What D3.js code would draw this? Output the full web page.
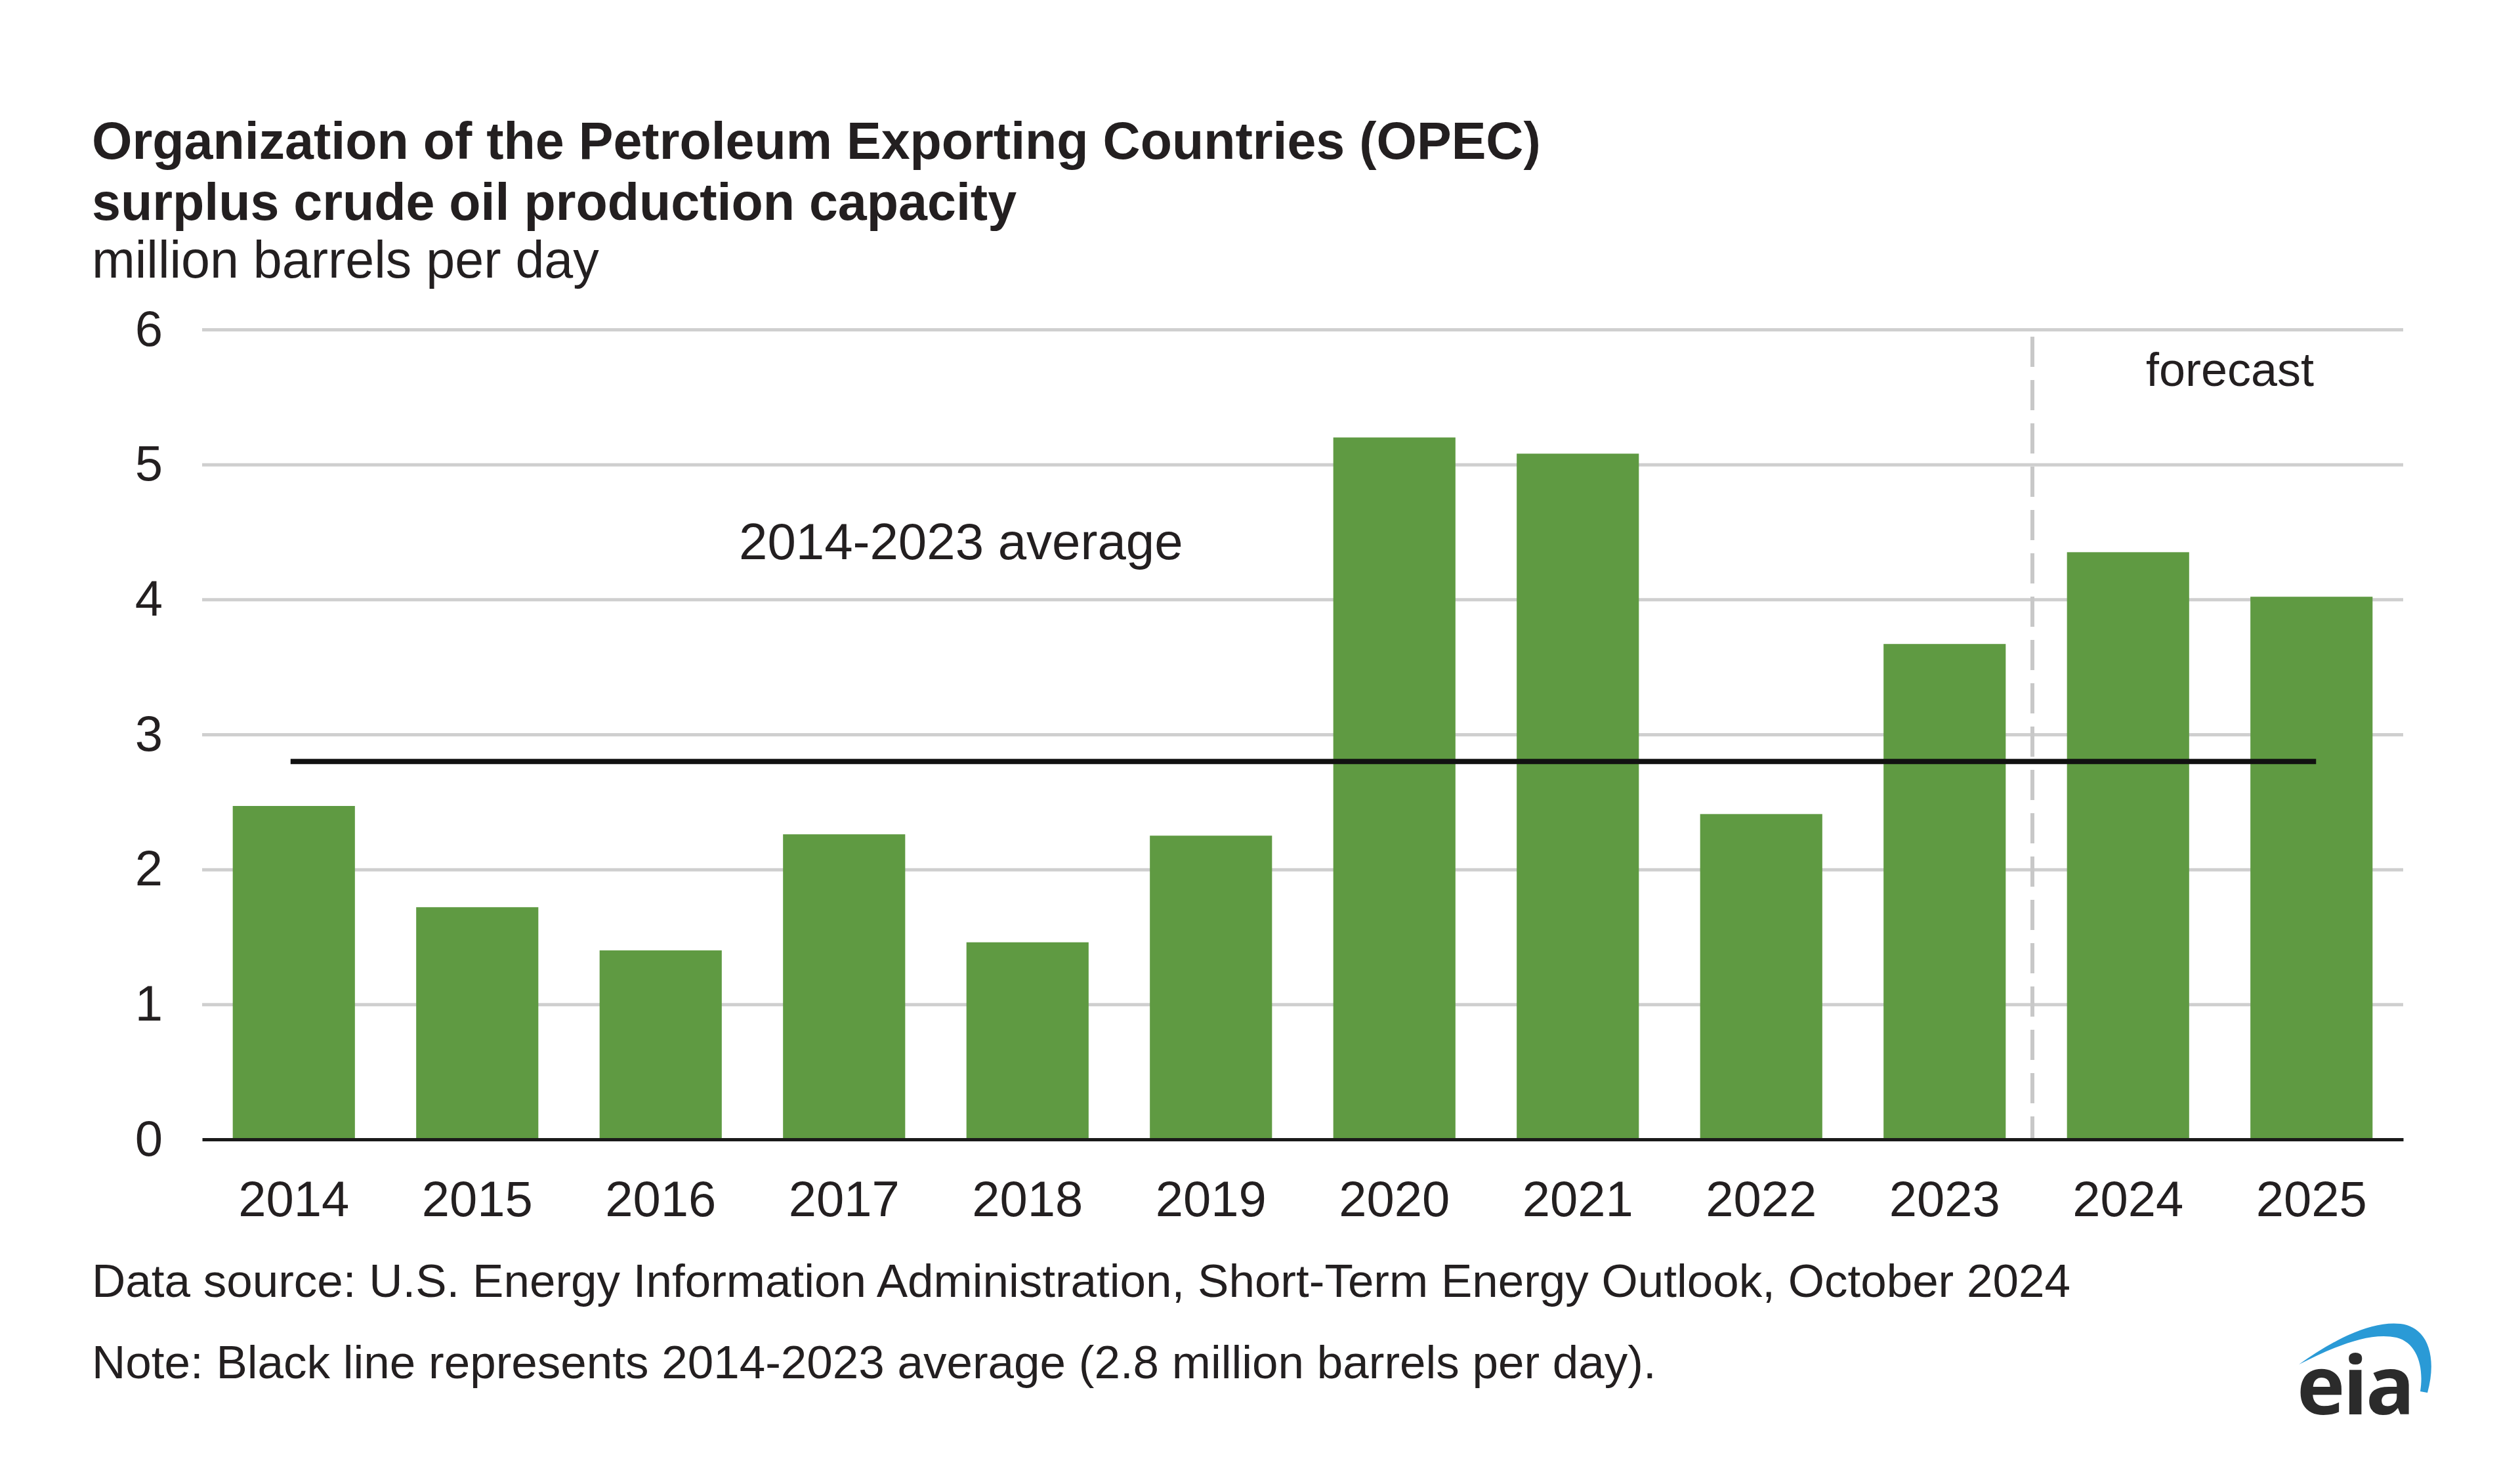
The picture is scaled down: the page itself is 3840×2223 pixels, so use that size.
<!DOCTYPE html>
<html>
<head>
<meta charset="utf-8">
<script src="https://cdn.jsdelivr.net/npm/d3@7"></script>
<style>
  html, body { margin: 0; padding: 0; background: #ffffff; }
  svg { display: block; font-family: "Liberation Sans", Arial, Helvetica, sans-serif; }
</style>
</head>
<body>
<script>
// ---- data ----
const years = ["2014","2015","2016","2017","2018","2019","2020","2021","2022","2023","2024","2025"];
const surplusCapacity = [2.47, 1.72, 1.40, 2.26, 1.46, 2.25, 5.20, 5.08, 2.41, 3.67, 4.35, 4.02];
const averageValue = 2.8;
const yTicks = [0, 1, 2, 3, 4, 5, 6];
const forecastStart = "2024";
const titleLines = ["Organization of the Petroleum Exporting Countries (OPEC)", "surplus crude oil production capacity"];
const unitLabel = "million barrels per day";
const averageLabel = "2014-2023 average";
const forecastLabel = "forecast";
const sourceNote = "Data source: U.S. Energy Information Administration, Short-Term Energy Outlook, October 2024";
const footNote = "Note: Black line represents 2014-2023 average (2.8 million barrels per day).";

(function () {
// ---- layout ----
const W = 3840, H = 2223;
const pLeft = 308, pRight = 3662, pTop = 502, pBottom = 1736;
const textColor = "#231f20";
const barColor = "#5f9a42";

const svg = d3.select("body").append("svg")
  .attr("width", W).attr("height", H)
  .attr("viewBox", `0 0 ${W} ${H}`);

svg.append("rect").attr("width", W).attr("height", H).attr("fill", "#ffffff");

const x = d3.scaleBand().domain(years).range([pLeft, pRight]).paddingInner(0.334).paddingOuter(0.167);
const y = d3.scaleLinear().domain([0, 6]).range([pBottom, pTop]);

// titles
const titleG = svg.append("g").attr("fill", textColor);
titleLines.forEach((t, i) => {
  titleG.append("text").attr("x", 140).attr("y", 242 + i * 93)
    .attr("font-size", 79).attr("font-weight", "bold").text(t);
});
titleG.append("text").attr("x", 140).attr("y", 423).attr("font-size", 79).text(unitLabel);

// y axis + gridlines
const yAxis = svg.append("g").attr("transform", `translate(${pLeft},0)`)
  .call(d3.axisLeft(y).tickValues(yTicks).tickSize(-(pRight - pLeft)).tickPadding(60).tickFormat(d3.format("d")));
yAxis.select(".domain").remove();
yAxis.selectAll(".tick line").attr("stroke", "#cfcfcf").attr("stroke-width", 5);
yAxis.selectAll(".tick text").attr("font-size", 76).attr("fill", textColor)
  .attr("font-family", "Liberation Sans, Arial, sans-serif");
yAxis.selectAll(".tick").filter(d => d === 0).select("line").remove();

// forecast divider
const divX = x(forecastStart) - x.step() * x.paddingInner() / 2 - 6;
svg.append("line").attr("x1", divX).attr("x2", divX).attr("y1", 513).attr("y2", pBottom)
  .attr("stroke", "#c8c8c8").attr("stroke-width", 6).attr("stroke-dasharray", "46,20");

// bars
svg.append("g").selectAll("rect").data(years).join("rect")
  .attr("x", d => x(d))
  .attr("width", x.bandwidth())
  .attr("y", (d, i) => y(surplusCapacity[i]))
  .attr("height", (d, i) => y(0) - y(surplusCapacity[i]))
  .attr("fill", barColor);

// x axis
const xAxis = svg.append("g").attr("transform", `translate(0,${pBottom})`)
  .call(d3.axisBottom(x).tickSize(0).tickPadding(63));
xAxis.select(".domain").attr("stroke", "#1a1a1a").attr("stroke-width", 5);
xAxis.selectAll(".tick text").attr("font-size", 76).attr("fill", textColor)
  .attr("font-family", "Liberation Sans, Arial, sans-serif");

// average line
svg.append("line")
  .attr("x1", x(years[0]) + x.bandwidth() / 2 - 5)
  .attr("x2", x(years[years.length - 1]) + x.bandwidth() / 2 + 7)
  .attr("y1", y(averageValue)).attr("y2", y(averageValue))
  .attr("stroke", "#111111").attr("stroke-width", 8);

// annotations
svg.append("text").attr("x", 1126).attr("y", 852).attr("font-size", 78).attr("fill", textColor).text(averageLabel);
svg.append("text").attr("x", 3398).attr("y", 588).attr("text-anchor", "middle")
  .attr("font-size", 72).attr("fill", textColor).text(forecastLabel);

// footer
svg.append("text").attr("x", 140).attr("y", 1976).attr("font-size", 71).attr("fill", textColor).text(sourceNote);
svg.append("text").attr("x", 140).attr("y", 2100).attr("font-size", 71).attr("fill", textColor).text(footNote);

// eia logo
const logo = svg.append("g");
logo.append("path")
  .attr("d", "M3503,2079 C3555,2042 3612,2012 3658,2017 C3700,2022 3714,2068 3699,2122 L3688,2120 C3694,2082 3683,2046 3652,2038 C3612,2029 3560,2050 3503,2079 Z")
  .attr("fill", "#2a9ad6");
logo.append("text").attr("x", 3500).attr("y", 2155).attr("font-size", 124).attr("font-weight", "bold")
  .attr("fill", "#2b2b2b").attr("font-family", "Open Sans, Liberation Sans, sans-serif")
  .attr("letter-spacing", -3).text("eia");
})();
</script>
</body>
</html>
